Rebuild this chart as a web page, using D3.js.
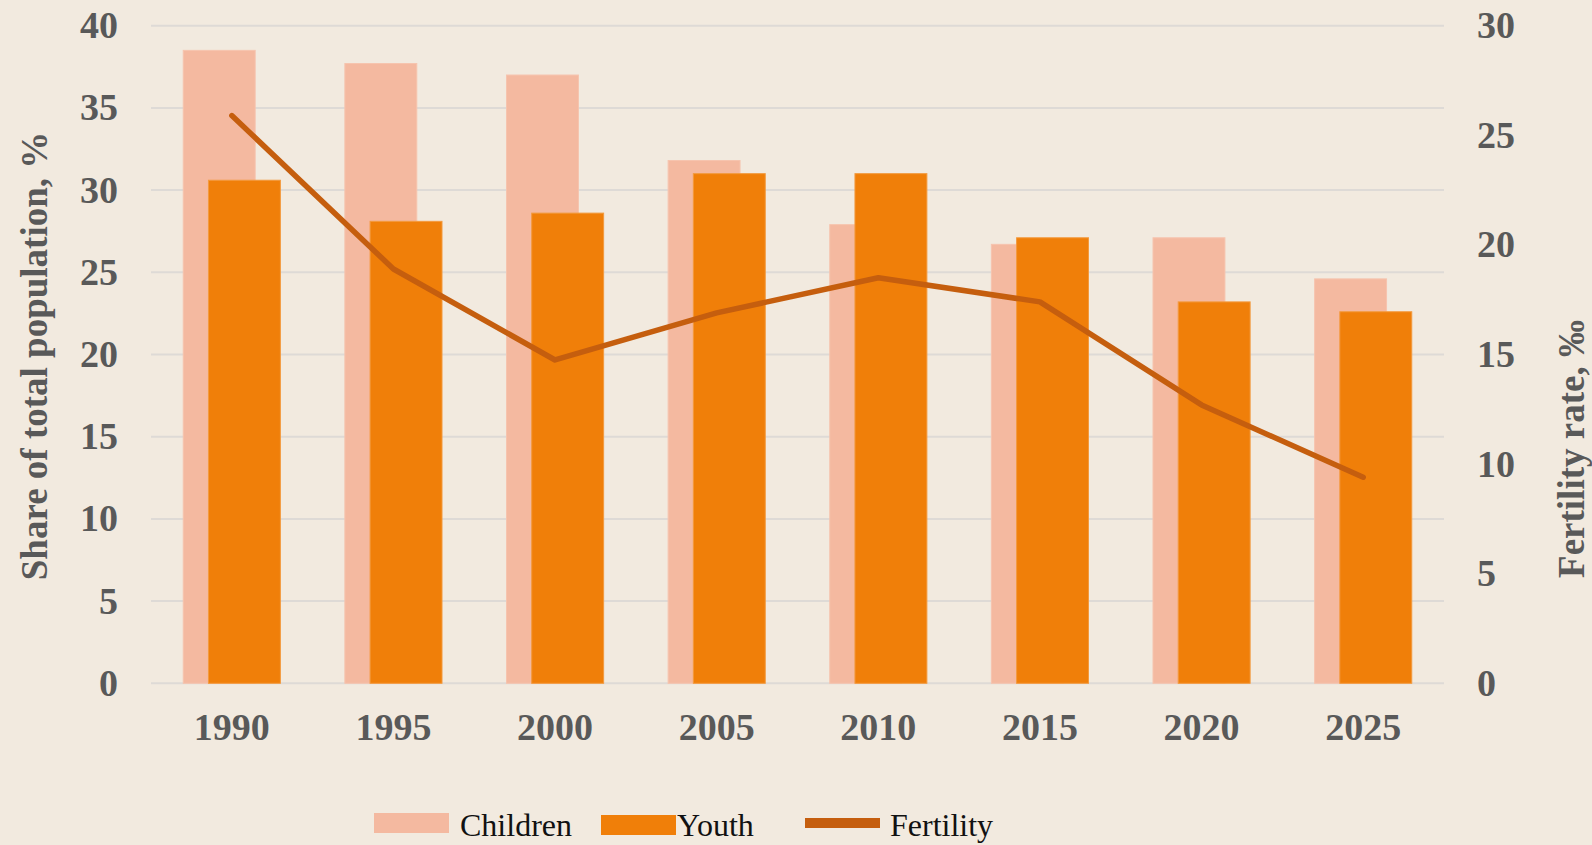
<!DOCTYPE html>
<html>
<head>
<meta charset="utf-8">
<script src="https://cdn.jsdelivr.net/npm/d3@7"></script>
<style>
  body { margin: 0; background: #f2eadf; }
  svg { display: block; }
  .tick-label { font-family: "Liberation Serif", "Times New Roman", serif; font-weight: bold; font-size: 38px; fill: #595959; }
  .axis-title { font-family: "Liberation Serif", "Times New Roman", serif; font-weight: bold; font-size: 37px; fill: #595959; }
  .legend-label { font-family: "Liberation Serif", "Times New Roman", serif; font-size: 32px; fill: #111; }
</style>
</head>
<body>
<div id="chart"></div>
<script>
var years = ["1990", "1995", "2000", "2005", "2010", "2015", "2020", "2025"];
var children = [38.5, 37.7, 37.0, 31.8, 27.9, 26.7, 27.1, 24.6];
var youth = [30.6, 28.1, 28.6, 31.0, 31.0, 27.1, 23.2, 22.6];
var fertility = [25.9, 18.9, 14.75, 16.9, 18.5, 17.4, 12.7, 9.4];
var leftTicks = [0, 5, 10, 15, 20, 25, 30, 35, 40];
var rightTicks = [0, 5, 10, 15, 20, 25, 30];

var width = 1592,
    height = 845,
    plotLeft = 151,
    plotRight = 1444,
    plotTop = 25.7,
    plotBottom = 683.3;

var colors = {children: "#f4b9a0", youth: "#f07f09", fertility: "#c55e0e", grid: "#dedad6"};

var x = d3.scaleBand()
    .domain(years)
    .range([plotLeft, plotRight])
    .paddingInner(0)
    .paddingOuter(0);

var yLeft = d3.scaleLinear().domain([0, 40]).range([plotBottom, plotTop]);
var yRight = d3.scaleLinear().domain([0, 30]).range([plotBottom, plotTop]);

var barWidth = x.bandwidth() * 0.445,
    barShift = x.bandwidth() * 0.078;

var svg = d3.select("#chart").append("svg")
    .attr("width", width)
    .attr("height", height);

svg.append("rect")
    .attr("width", width)
    .attr("height", height)
    .attr("fill", "#f2eadf");

// gridlines (left axis)
svg.append("g").selectAll("line")
    .data(leftTicks)
  .enter().append("line")
    .attr("x1", plotLeft)
    .attr("x2", plotRight)
    .attr("y1", function(d) { return yLeft(d); })
    .attr("y2", function(d) { return yLeft(d); })
    .attr("stroke", colors.grid)
    .attr("stroke-width", 2);

// left tick labels
svg.append("g").selectAll("text")
    .data(leftTicks)
  .enter().append("text")
    .attr("class", "tick-label")
    .attr("x", 118)
    .attr("y", function(d) { return yLeft(d); })
    .attr("dy", "0.33em")
    .attr("text-anchor", "end")
    .text(function(d) { return d; });

// right tick labels
svg.append("g").selectAll("text")
    .data(rightTicks)
  .enter().append("text")
    .attr("class", "tick-label")
    .attr("x", 1477)
    .attr("y", function(d) { return yRight(d); })
    .attr("dy", "0.33em")
    .attr("text-anchor", "start")
    .text(function(d) { return d; });

// category labels
svg.append("g").selectAll("text")
    .data(years)
  .enter().append("text")
    .attr("class", "tick-label")
    .attr("x", function(d) { return x(d) + x.bandwidth() / 2; })
    .attr("y", 740)
    .attr("text-anchor", "middle")
    .text(function(d) { return d; });

// children bars (behind)
svg.append("g").selectAll("rect")
    .data(children)
  .enter().append("rect")
    .attr("x", function(d, i) { return x(years[i]) + x.bandwidth() / 2 - barShift - barWidth / 2; })
    .attr("y", function(d) { return yLeft(d); })
    .attr("width", barWidth)
    .attr("height", function(d) { return yLeft(0) - yLeft(d); })
    .attr("fill", colors.children)
    .attr("stroke", "#f6c4ae")
    .attr("stroke-width", 1);

// youth bars (front)
svg.append("g").selectAll("rect")
    .data(youth)
  .enter().append("rect")
    .attr("x", function(d, i) { return x(years[i]) + x.bandwidth() / 2 + barShift - barWidth / 2; })
    .attr("y", function(d) { return yLeft(d); })
    .attr("width", barWidth)
    .attr("height", function(d) { return yLeft(0) - yLeft(d); })
    .attr("fill", colors.youth)
    .attr("stroke", "#f39a3e")
    .attr("stroke-width", 1);

// fertility line on right axis
var line = d3.line()
    .x(function(d, i) { return x(years[i]) + x.bandwidth() / 2; })
    .y(function(d) { return yRight(d); });

svg.append("path")
    .datum(fertility)
    .attr("d", line)
    .attr("fill", "none")
    .attr("stroke", colors.fertility)
    .attr("stroke-width", 5.5)
    .attr("stroke-linecap", "round")
    .attr("stroke-linejoin", "round");

// axis titles
svg.append("text")
    .attr("class", "axis-title")
    .attr("transform", "translate(47,356)rotate(-90)")
    .attr("text-anchor", "middle")
    .text("Share of total population, %");

svg.append("text")
    .attr("class", "axis-title")
    .attr("transform", "translate(1584,449)rotate(-90)")
    .attr("text-anchor", "middle")
    .text("Fertility rate, ‰");

// legend
var legend = svg.append("g");
var legendItems = [
  {name: "Children", type: "bar", color: colors.children, x: 374, tx: 460},
  {name: "Youth", type: "bar", color: colors.youth, x: 601, tx: 677},
  {name: "Fertility", type: "line", color: colors.fertility, x: 805, tx: 890}
];

legendItems.forEach(function(d) {
  if (d.type === "bar") {
    legend.append("rect")
      .attr("x", d.x)
      .attr("y", d.name === "Youth" ? 815 : 813)
      .attr("width", 75)
      .attr("height", 20)
      .attr("fill", d.color);
  } else {
    legend.append("rect")
      .attr("x", d.x)
      .attr("y", 818)
      .attr("width", 75)
      .attr("height", 10)
      .attr("fill", d.color);
  }
  legend.append("text")
    .attr("class", "legend-label")
    .attr("x", d.tx)
    .attr("y", 836)
    .text(d.name);
});
</script>
</body>
</html>
